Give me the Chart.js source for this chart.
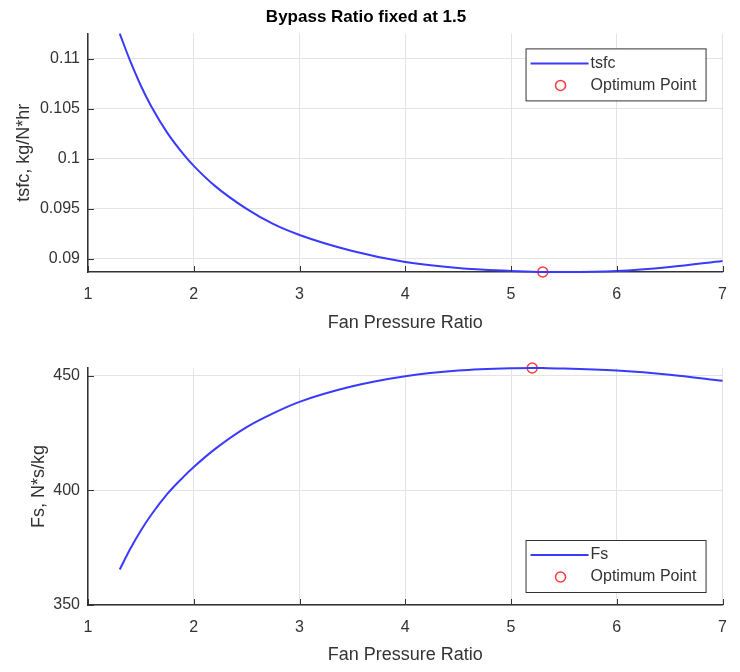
<!DOCTYPE html>
<html>
<head>
  <meta charset="utf-8">
  <script src="https://cdn.jsdelivr.net/npm/chart.js"></script>
  <style>
    body { margin: 0; background: #fff; }
    .plot { position: absolute; left: 0; width: 740px; height: 336px; }
  </style>
</head>
<body>
  <div class="plot" style="top: 0"><canvas id="tsfcChart" width="740" height="336"></canvas></div>
  <div class="plot" style="top: 336px"><canvas id="fsChart" width="740" height="336"></canvas></div>

  <script>
    // fan pressure ratio samples
    const fpr = [1.3, 1.4, 1.5, 1.6, 1.75, 1.9, 2, 2.2, 2.5, 2.75, 3, 3.5, 4, 4.5, 5, 5.2, 5.3, 5.5, 6, 6.5, 7];
    const tsfc = [0.1125, 0.10975, 0.1073, 0.1052, 0.1026, 0.1005, 0.0993, 0.0973, 0.0950, 0.0935, 0.0924, 0.0908,
                  0.0897, 0.0891, 0.0888, 0.08872, 0.0887, 0.0887, 0.0888, 0.0892, 0.0898];
    const fs = [365.5, 374.5, 382.5, 389.5, 398.5, 405.8, 410.2, 418.0, 427.6, 433.6, 438.6, 445.4,
                449.8, 452.3, 453.3, 453.4, 453.35, 453.2, 452.3, 450.5, 447.8];
    const tsfcOpt = [5.3, 0.0887];
    const fsOpt = [5.2, 453.4];

    const xTicks = [1, 2, 3, 4, 5, 6, 7];
    const tsfcTicks = [0.09, 0.095, 0.1, 0.105, 0.11];
    const fsTicks = [350, 400, 450];

    const FONT = '"Liberation Sans", Arial, sans-serif';
    const INK = '#333333';
    const GRID = '#e3e3e3';
    const BLUE = '#3a3aff';
    const RED = '#ff3b3b';

    Chart.defaults.font.family = FONT;
    Chart.defaults.color = INK;

    // small tick marks pointing into the plot, like matlab
    const innerTicks = {
      id: 'innerTicks',
      afterDatasetsDraw(chart) {
        const { ctx, chartArea: a, scales: { x, y } } = chart;
        ctx.save();
        ctx.strokeStyle = INK;
        ctx.lineWidth = 1;
        x.ticks.forEach(t => {
          const px = Math.round(x.getPixelForValue(t.value)) + 0.5;
          ctx.beginPath(); ctx.moveTo(px, a.bottom); ctx.lineTo(px, a.bottom - 6); ctx.stroke();
        });
        y.ticks.forEach(t => {
          const py = Math.round(y.getPixelForValue(t.value)) + 0.5;
          ctx.beginPath(); ctx.moveTo(a.left, py); ctx.lineTo(a.left + 6, py); ctx.stroke();
        });
        ctx.restore();
      }
    };

    // legend box drawn inside the axes
    const boxLegend = {
      id: 'boxLegend',
      afterDraw(chart, args, opts) {
        const { ctx, chartArea: a } = chart;
        const w = 180, h = 52;
        const left = a.right - 17 - w;
        const top = opts.top != null ? a.top + opts.top : a.bottom - opts.bottom - h;
        ctx.save();
        ctx.fillStyle = '#fff';
        ctx.fillRect(left, top, w, h);
        ctx.strokeStyle = INK;
        ctx.lineWidth = 1;
        ctx.strokeRect(left + 0.5, top + 0.5, w, h);
        const [line, pt] = chart.data.datasets;
        ctx.font = '16px ' + FONT;
        ctx.fillStyle = INK;
        ctx.textBaseline = 'middle';
        ctx.textAlign = 'left';
        // row 1: line
        ctx.strokeStyle = line.borderColor;
        ctx.lineWidth = 2;
        ctx.beginPath(); ctx.moveTo(left + 5, top + 15); ctx.lineTo(left + 63, top + 15); ctx.stroke();
        ctx.fillText(line.label, left + 65, top + 15);
        // row 2: marker
        ctx.strokeStyle = pt.borderColor;
        ctx.lineWidth = 1.5;
        ctx.beginPath(); ctx.arc(left + 35, top + 37, 5, 0, Math.PI * 2); ctx.stroke();
        ctx.fillText(pt.label, left + 65, top + 37);
        ctx.restore();
      }
    };

    function makeChart(id, cfg) {
      const ctx = document.getElementById(id).getContext('2d');
      return new Chart(ctx, {
        type: 'scatter',
        data: {
          datasets: [{
            label: cfg.lineLabel,
            data: fpr.map((v, i) => ({ x: v, y: cfg.values[i] })),
            showLine: true,
            borderColor: BLUE,
            borderWidth: 2,
            pointRadius: 0,
            cubicInterpolationMode: 'monotone',
            clip: false
          }, {
            label: 'Optimum Point',
            data: [{ x: cfg.opt[0], y: cfg.opt[1] }],
            pointRadius: 5,
            pointBorderWidth: 1.5,
            borderColor: RED,
            backgroundColor: 'rgba(0,0,0,0)',
            clip: false
          }]
        },
        options: {
          responsive: false,
          animation: false,
          devicePixelRatio: 1,
          layout: { padding: { left: 0, right: 8, top: cfg.padTop, bottom: 0 } },
          plugins: {
            legend: { display: false },
            tooltip: { enabled: false },
            title: cfg.title ? {
              display: true,
              text: cfg.title,
              color: '#000',
              font: { size: 17, weight: 'bold' },
              padding: { top: 7, bottom: 6 }
            } : { display: false },
            boxLegend: cfg.legend
          },
          scales: {
            x: {
              type: 'linear',
              min: 1, max: 7,
              afterBuildTicks: s => { s.ticks = xTicks.map(v => ({ value: v })); },
              afterFit: s => { s.height = cfg.xHeight; },
              ticks: { font: { size: 16 }, padding: 13, color: INK },
              grid: { color: GRID, drawTicks: false },
              border: { color: INK, width: 1.5 },
              title: {
                display: true, text: 'Fan Pressure Ratio', color: INK,
                font: { size: 18 }, padding: { top: 0, bottom: cfg.xTitlePad }
              }
            },
            y: {
              type: 'linear',
              min: cfg.yMin, max: cfg.yMax,
              afterBuildTicks: s => { s.ticks = cfg.yTicks.map(v => ({ value: v })); },
              afterFit: s => { s.width = 88; },
              ticks: { font: { size: 16 }, padding: 8, color: INK, callback: v => String(+v.toFixed(3)) },
              grid: { color: GRID, drawTicks: false },
              border: { color: INK, width: 1.5 },
              title: {
                display: true, text: cfg.yLabel, color: INK,
                font: { size: 18 }, padding: { top: cfg.yTitlePad, bottom: 0 }
              }
            }
          }
        },
        plugins: [innerTicks, boxLegend]
      });
    }

    makeChart('tsfcChart', {
      title: 'Bypass Ratio fixed at 1.5',
      lineLabel: 'tsfc',
      values: tsfc,
      opt: tsfcOpt,
      yMin: 0.0887, yMax: 0.11253,
      yTicks: tsfcTicks,
      yLabel: 'tsfc, kg/N*hr',
      yTitlePad: 13,
      padTop: 0,
      xHeight: 64,
      xTitlePad: 2,
      legend: { top: 15 }
    });

    makeChart('fsChart', {
      title: null,
      lineLabel: 'Fs',
      values: fs,
      opt: fsOpt,
      yMin: 350, yMax: 453.4,
      yTicks: fsTicks,
      yLabel: 'Fs, N*s/kg',
      yTitlePad: 28,
      padTop: 32,
      xHeight: 67,
      xTitlePad: 6,
      legend: { bottom: 13 }
    });
  </script>
</body>
</html>
